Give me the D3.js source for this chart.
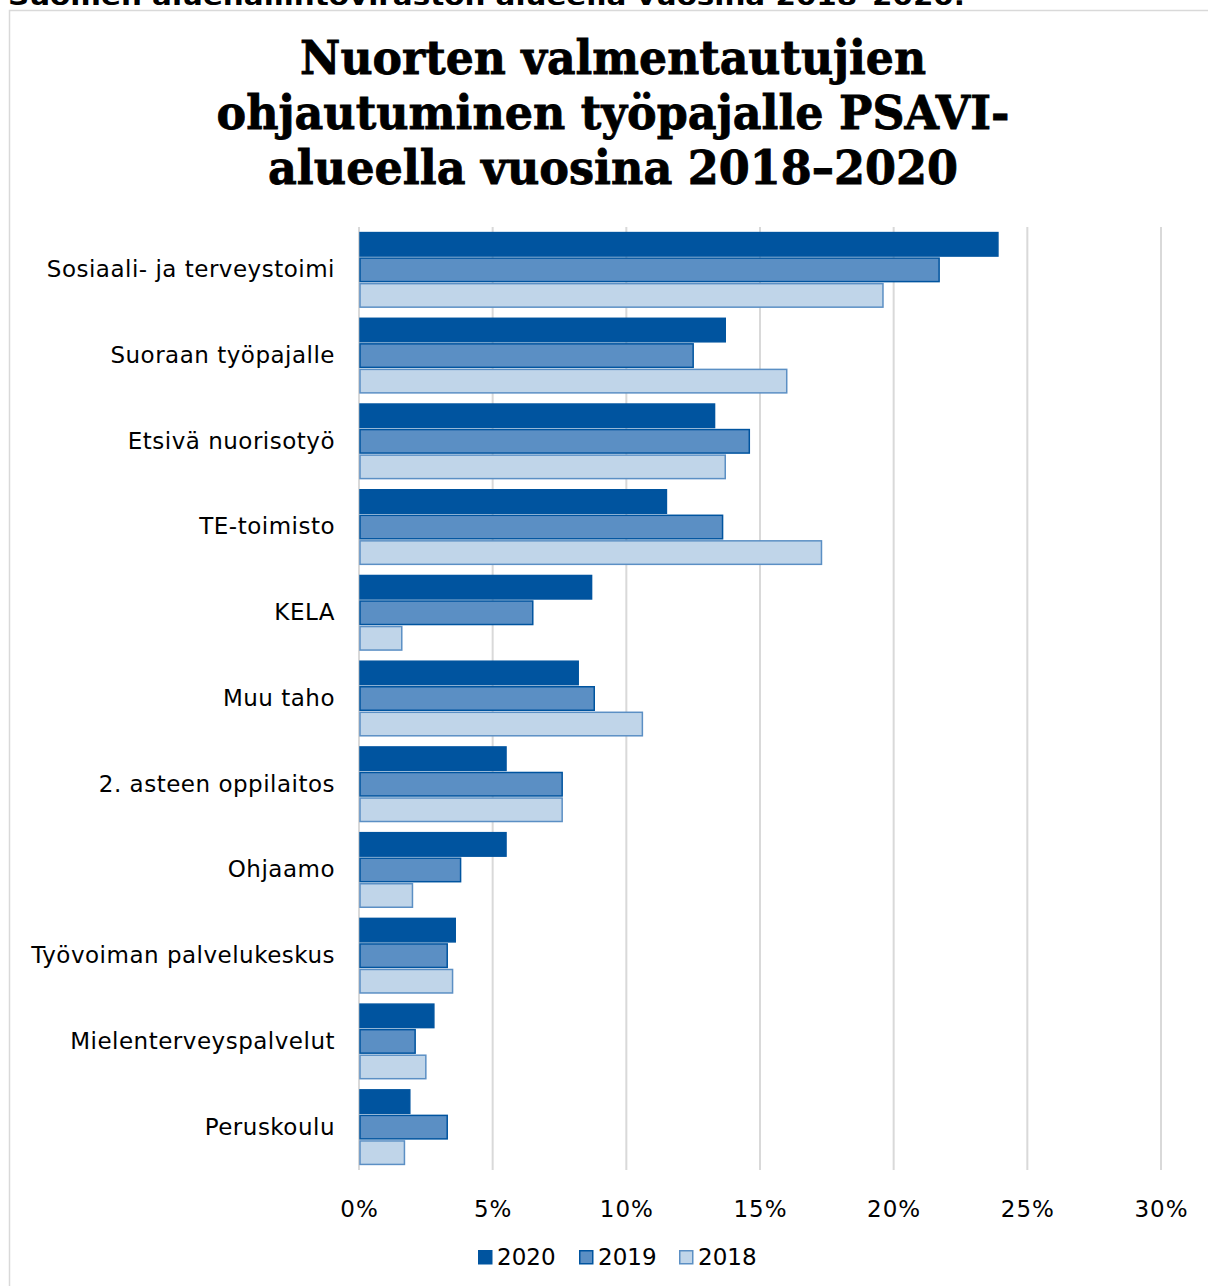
<!DOCTYPE html>
<html>
<head>
<meta charset="utf-8">
<script src="https://cdn.jsdelivr.net/npm/d3@7"></script>
<style>
  body { margin: 0; background: #fff; }
  svg { display: block; }
</style>
</head>
<body>
<div id="chart"></div>
<script>
// data
var categories = [
  "Sosiaali- ja terveystoimi",
  "Suoraan työpajalle",
  "Etsivä nuorisotyö",
  "TE-toimisto",
  "KELA",
  "Muu taho",
  "2. asteen oppilaitos",
  "Ohjaamo",
  "Työvoiman palvelukeskus",
  "Mielenterveyspalvelut",
  "Peruskoulu"
];
var years = ["2020", "2019", "2018"];
var values2020 = [23.9, 13.7, 13.3, 11.5, 8.7, 8.2, 5.5, 5.5, 3.6, 2.8, 1.9];
var values2019 = [21.7, 12.5, 14.6, 13.6, 6.5, 8.8, 7.6, 3.8, 3.3, 2.1, 3.3];
var values2018 = [19.6, 16.0, 13.7, 17.3, 1.6, 10.6, 7.6, 2.0, 3.5, 2.5, 1.7];
var xTicks = [0, 5, 10, 15, 20, 25, 30];

var titleLines = ["Nuorten valmentautujien", "ohjautuminen työpajalle PSAVI-", "alueella vuosina 2018–2020"];
var titleWidths = [626, 793, 690];

var svgWidth = 1208;
var svgHeight = 1286;

var margin = { top: 227, right: 47, bottom: 116, left: 359 };
var chartWidth = svgWidth - margin.left - margin.right;
var chartHeight = svgHeight - margin.top - margin.bottom;

var fills = { "2020": "#00549f", "2019": "#5b8fc4", "2018": "#c0d5e9" };
var strokes = { "2020": "#00549f", "2019": "#00549f", "2018": "#5b8fc4" };

var labelFont = "DejaVu Sans";

var svg = d3.select("#chart")
  .append("svg")
  .attr("width", svgWidth)
  .attr("height", svgHeight);

// caption above the chart box, cut off at the top edge
svg.append("text")
  .attr("x", 8)
  .attr("y", 5)
  .attr("font-family", labelFont)
  .attr("font-weight", "bold")
  .attr("font-size", "24px")
  .attr("textLength", 957)
  .attr("lengthAdjust", "spacingAndGlyphs")
  .text("Suomen aluehallintoviraston alueella vuosina 2018–2020.");

// chart border
svg.append("rect")
  .attr("x", 9.5)
  .attr("y", 10.5)
  .attr("width", svgWidth)
  .attr("height", svgHeight)
  .attr("fill", "none")
  .attr("stroke", "#d9d9d9")
  .attr("stroke-width", 1.5);

// title
svg.append("g")
  .selectAll("text")
  .data(titleLines)
  .enter()
  .append("text")
  .attr("x", 613)
  .attr("y", (d, i) => 74 + i * 55)
  .attr("text-anchor", "middle")
  .attr("font-family", "DejaVu Serif")
  .attr("font-weight", "bold")
  .attr("font-size", "46px")
  .attr("fill", "#000")
  .attr("stroke", "#000")
  .attr("stroke-width", 0.8)
  .attr("textLength", (d, i) => titleWidths[i])
  .attr("lengthAdjust", "spacingAndGlyphs")
  .text(d => d);

var chartGroup = svg.append("g")
  .attr("transform", `translate(${margin.left}, ${margin.top})`);

var xScale = d3.scaleLinear()
  .domain([0, 30])
  .range([0, chartWidth]);

var yScale = d3.scaleBand()
  .domain(categories)
  .range([0, chartHeight])
  .paddingInner(0.13)
  .paddingOuter(0.065);

var yearScale = d3.scaleBand()
  .domain(years)
  .range([0, yScale.bandwidth()])
  .paddingInner(0.08);

// gridlines
chartGroup.append("g")
  .selectAll("line")
  .data(xTicks)
  .enter()
  .append("line")
  .attr("x1", d => xScale(d))
  .attr("x2", d => xScale(d))
  .attr("y1", 0)
  .attr("y2", chartHeight)
  .attr("stroke", "#d9d9d9")
  .attr("stroke-width", 2);

// x axis labels
var bottomAxis = d3.axisBottom(xScale)
  .tickValues(xTicks)
  .tickFormat(d => d + "%")
  .tickSize(0)
  .tickPadding(31);

chartGroup.append("g")
  .attr("transform", `translate(0, ${chartHeight})`)
  .call(bottomAxis)
  .call(g => g.select(".domain").remove())
  .selectAll("text")
  .attr("font-family", labelFont)
  .attr("font-size", "23px")
  .attr("letter-spacing", "1px")
  .attr("fill", "#000");

// category labels
var leftAxis = d3.axisLeft(yScale)
  .tickSize(0)
  .tickPadding(24);

chartGroup.append("g")
  .call(leftAxis)
  .call(g => g.select(".domain").remove())
  .selectAll("text")
  .attr("font-family", labelFont)
  .attr("font-size", "23px")
  .attr("letter-spacing", "0.5px")
  .attr("fill", "#000");

var rows = categories.map(function(c, i) {
  return { category: c, "2020": values2020[i], "2019": values2019[i], "2018": values2018[i] };
});

var groups = chartGroup.selectAll(".cat")
  .data(rows)
  .enter()
  .append("g")
  .attr("class", "cat")
  .attr("transform", d => `translate(0, ${yScale(d.category)})`);

groups.selectAll("rect")
  .data(d => years.map(y => ({ year: y, value: d[y] })))
  .enter()
  .append("rect")
  .attr("x", xScale(0) + 1)
  .attr("y", d => yearScale(d.year))
  .attr("width", d => xScale(d.value) - xScale(0) - 1)
  .attr("height", yearScale.bandwidth())
  .attr("fill", d => fills[d.year])
  .attr("stroke", d => strokes[d.year])
  .attr("stroke-width", 1.5);

// legend
var legendX = [478, 579, 679];
var legend = svg.append("g")
  .attr("transform", "translate(0, 1257)");

var legendItems = legend.selectAll("g")
  .data(years)
  .enter()
  .append("g")
  .attr("transform", (d, i) => `translate(${legendX[i]}, 0)`);

legendItems.append("rect")
  .attr("x", 0.75)
  .attr("y", -6.25)
  .attr("width", 13)
  .attr("height", 13)
  .attr("fill", d => fills[d])
  .attr("stroke", d => strokes[d])
  .attr("stroke-width", 1.5);

legendItems.append("text")
  .attr("x", 19)
  .attr("y", 0)
  .attr("dy", "0.35em")
  .attr("font-family", labelFont)
  .attr("font-size", "23px")
  .attr("fill", "#000")
  .text(d => d);
</script>
</body>
</html>
